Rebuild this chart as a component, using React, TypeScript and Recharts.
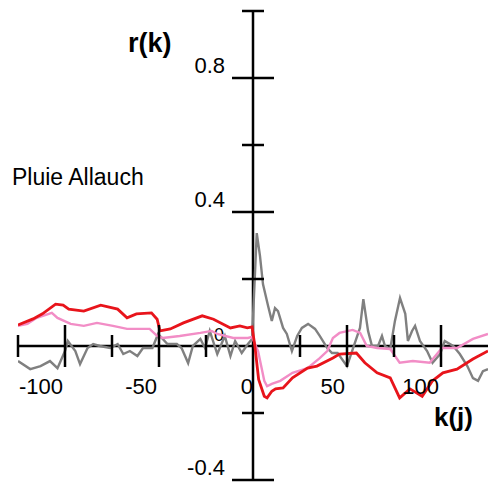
import React from "react";
import { LineChart, Line, XAxis, YAxis, ReferenceLine, ReferenceDot } from "recharts";

// lag k and r(k) for each series
const redK = [-125, -117, -112, -105, -101, -98, -90, -81, -72, -67, -62, -54, -51, -49.5, -44, -37, -27, -21, -12, -7, -3, -0.5, 1, 3, 6, 7.5, 10, 12, 16, 21, 29, 34, 42.5, 46, 55, 59.5, 66, 73, 78, 83.5, 90, 95.5, 101, 108.5, 117, 125];
const redR = [0.063, 0.081, 0.096, 0.125, 0.122, 0.11, 0.104, 0.122, 0.11, 0.084, 0.096, 0.099, 0.08, 0.045, 0.051, 0.069, 0.09, 0.08, 0.054, 0.06, 0.054, 0.057, 0.0, -0.1, -0.15, -0.155, -0.135, -0.128, -0.125, -0.095, -0.066, -0.06, -0.036, -0.024, -0.021, -0.05, -0.08, -0.095, -0.155, -0.128, -0.15, -0.104, -0.08, -0.069, -0.039, -0.015];

const pinkK = [-125, -120, -115, -107, -104, -97, -90, -83, -74.5, -67, -55, -51, -48, -39, -28, -22, -19, -10.5, -2.7, -0.5, 2.7, 6, 7.5, 10, 14.5, 21, 29, 35.5, 39.5, 42.5, 46, 53, 57, 60.5, 66, 73, 78, 85, 94, 100.5, 108.5, 117, 125];
const pinkR = [0.06, 0.066, 0.084, 0.099, 0.084, 0.066, 0.06, 0.069, 0.06, 0.051, 0.051, 0.03, 0.024, 0.03, 0.039, 0.045, 0.036, 0.024, 0.024, 0.027, -0.015, -0.104, -0.12, -0.113, -0.104, -0.08, -0.066, -0.036, -0.015, 0.024, 0.039, 0.048, 0.039, 0.0, -0.006, -0.009, -0.05, -0.045, -0.05, -0.006, -0.006, 0.021, 0.036];

const grayK = [-125, -118.5, -113, -108, -104, -100, -98.5, -94.5, -92, -88, -85, -81.5, -76, -72, -69, -65.5, -61.5, -58.5, -53.5, -50.5, -45.5, -40.5, -38, -34.5, -32, -28, -25.5, -23, -19, -15, -12, -9.5, -6, -2.7, -0.5, 2, 3.7, 5.3, 8, 10, 11.7, 13.3, 16, 18, 20.7, 23.5, 26, 29.3, 33, 35.5, 39.5, 42, 45, 50, 52.7, 56.9, 58.7, 61.2, 63.3, 66.5, 68.6, 70.2, 73, 75.5, 78.2, 81, 82.4, 84.6, 86.2, 88.8, 92.6, 95.5, 99.5, 102, 106.5, 110, 114, 117, 119.7, 122.3, 125];
const grayR = [-0.045, -0.069, -0.06, -0.045, -0.066, -0.015, 0.015, -0.015, -0.054, -0.006, 0.006, 0.0, -0.006, 0.006, -0.024, -0.015, -0.03, -0.006, -0.006, 0.036, 0.006, 0.006, -0.006, -0.051, 0.0, 0.021, -0.006, 0.045, -0.024, 0.03, -0.03, 0.015, -0.021, 0.006, 0.021, 0.337, 0.27, 0.185, 0.12, 0.075, 0.113, 0.104, 0.054, 0.036, -0.015, 0.03, 0.054, 0.066, 0.051, 0.03, -0.006, -0.021, -0.021, -0.06, -0.015, 0.054, 0.14, 0.045, 0.0, 0.0, 0.03, 0.0, -0.009, 0.075, 0.143, 0.096, 0.015, 0.045, 0.06, 0.015, -0.015, -0.05, -0.024, 0.015, 0.0, -0.024, -0.06, -0.096, -0.104, -0.075, -0.069];

const xMajor = [-100, -50, 0, 50, 100];
const xMinor = [-125, -75, -25, 25, 75];
const yMajor = [0.8, 0.4, -0.4];
const yMinor = [1.0, 0.6, 0.2, -0.2];

const toRows = (ks: number[], rs: number[]) => ks.map((k, i) => ({ k, r: rs[i] }));
const redData = toRows(redK, redR);
const pinkData = toRows(pinkK, pinkR);
const grayData = toRows(grayK, grayR);

const FONT = "'Liberation Sans', Arial, sans-serif";

const xTick = (half: number, label?: string) => (p: any) => (
  <g>
    {half > 0 && <line x1={p.cx} x2={p.cx} y1={p.cy - half} y2={p.cy + half} stroke="#000" strokeWidth={2.5} />}
    {label && (
      <text x={label === "0" ? p.cx : p.cx - 2} y={p.cy + 48} textAnchor="end" fontSize={22} fontFamily={FONT} fill="#000">{label}</text>
    )}
  </g>
);

const yTick = (half: number, label?: string) => (p: any) => (
  <g>
    <line x1={p.cx - half} x2={p.cx + half} y1={p.cy} y2={p.cy} stroke="#000" strokeWidth={2.5} />
    {label && (
      <text x={p.cx - 28} y={p.cy - 5} textAnchor="end" fontSize={22} fontFamily={FONT} fill="#000">{label}</text>
    )}
  </g>
);

export default function App() {
  return (
    <div style={{ position: "absolute", left: 0, top: 0, width: 489, height: 483, background: "#fff" }}>
      <LineChart width={489} height={483} margin={{ top: 11, right: 1, bottom: 3, left: 18 }}>
        <XAxis dataKey="k" type="number" domain={[-125, 125]} hide allowDataOverflow />
        <YAxis type="number" domain={[-0.4, 1.0]} hide allowDataOverflow />
        <ReferenceLine x={0} stroke="#000" strokeWidth={2.5} />
        <ReferenceLine y={0} stroke="#000" strokeWidth={2.5} />
        {xMajor.map(t => (
          <ReferenceDot key={"xm" + t} x={t} y={0} ifOverflow="visible" shape={xTick(t === 0 ? 0 : 21, String(t))} />
        ))}
        {xMinor.map(t => (
          <ReferenceDot key={"xn" + t} x={t} y={0} ifOverflow="visible" shape={xTick(11)} />
        ))}
        {yMajor.map(t => (
          <ReferenceDot key={"ym" + t} x={0} y={t} ifOverflow="visible" shape={yTick(21, String(t))} />
        ))}
        {yMinor.map(t => (
          <ReferenceDot key={"yn" + t} x={0} y={t} ifOverflow="visible" shape={yTick(11)} />
        ))}
        <Line data={grayData} dataKey="r" type="linear" stroke="#808080" strokeWidth={2.4} dot={false} isAnimationActive={false} />
        <Line data={pinkData} dataKey="r" type="linear" stroke="#f28dc6" strokeWidth={2.4} dot={false} isAnimationActive={false} />
        <Line data={redData} dataKey="r" type="linear" stroke="#e8141b" strokeWidth={2.8} dot={false} isAnimationActive={false} />
        <text x={128} y={52} fontSize={27} fontWeight="bold" fontFamily={FONT} fill="#000">r(k)</text>
        <text x={434} y={426} fontSize={26} fontWeight="bold" fontFamily={FONT} fill="#000">k(j)</text>
        <text x={12} y={185} fontSize={23} fontFamily={FONT} fill="#000">Pluie Allauch</text>
        <text x={214} y={341} fontSize={18} fontFamily={FONT} fill="#000">0</text>
      </LineChart>
    </div>
  );
}
